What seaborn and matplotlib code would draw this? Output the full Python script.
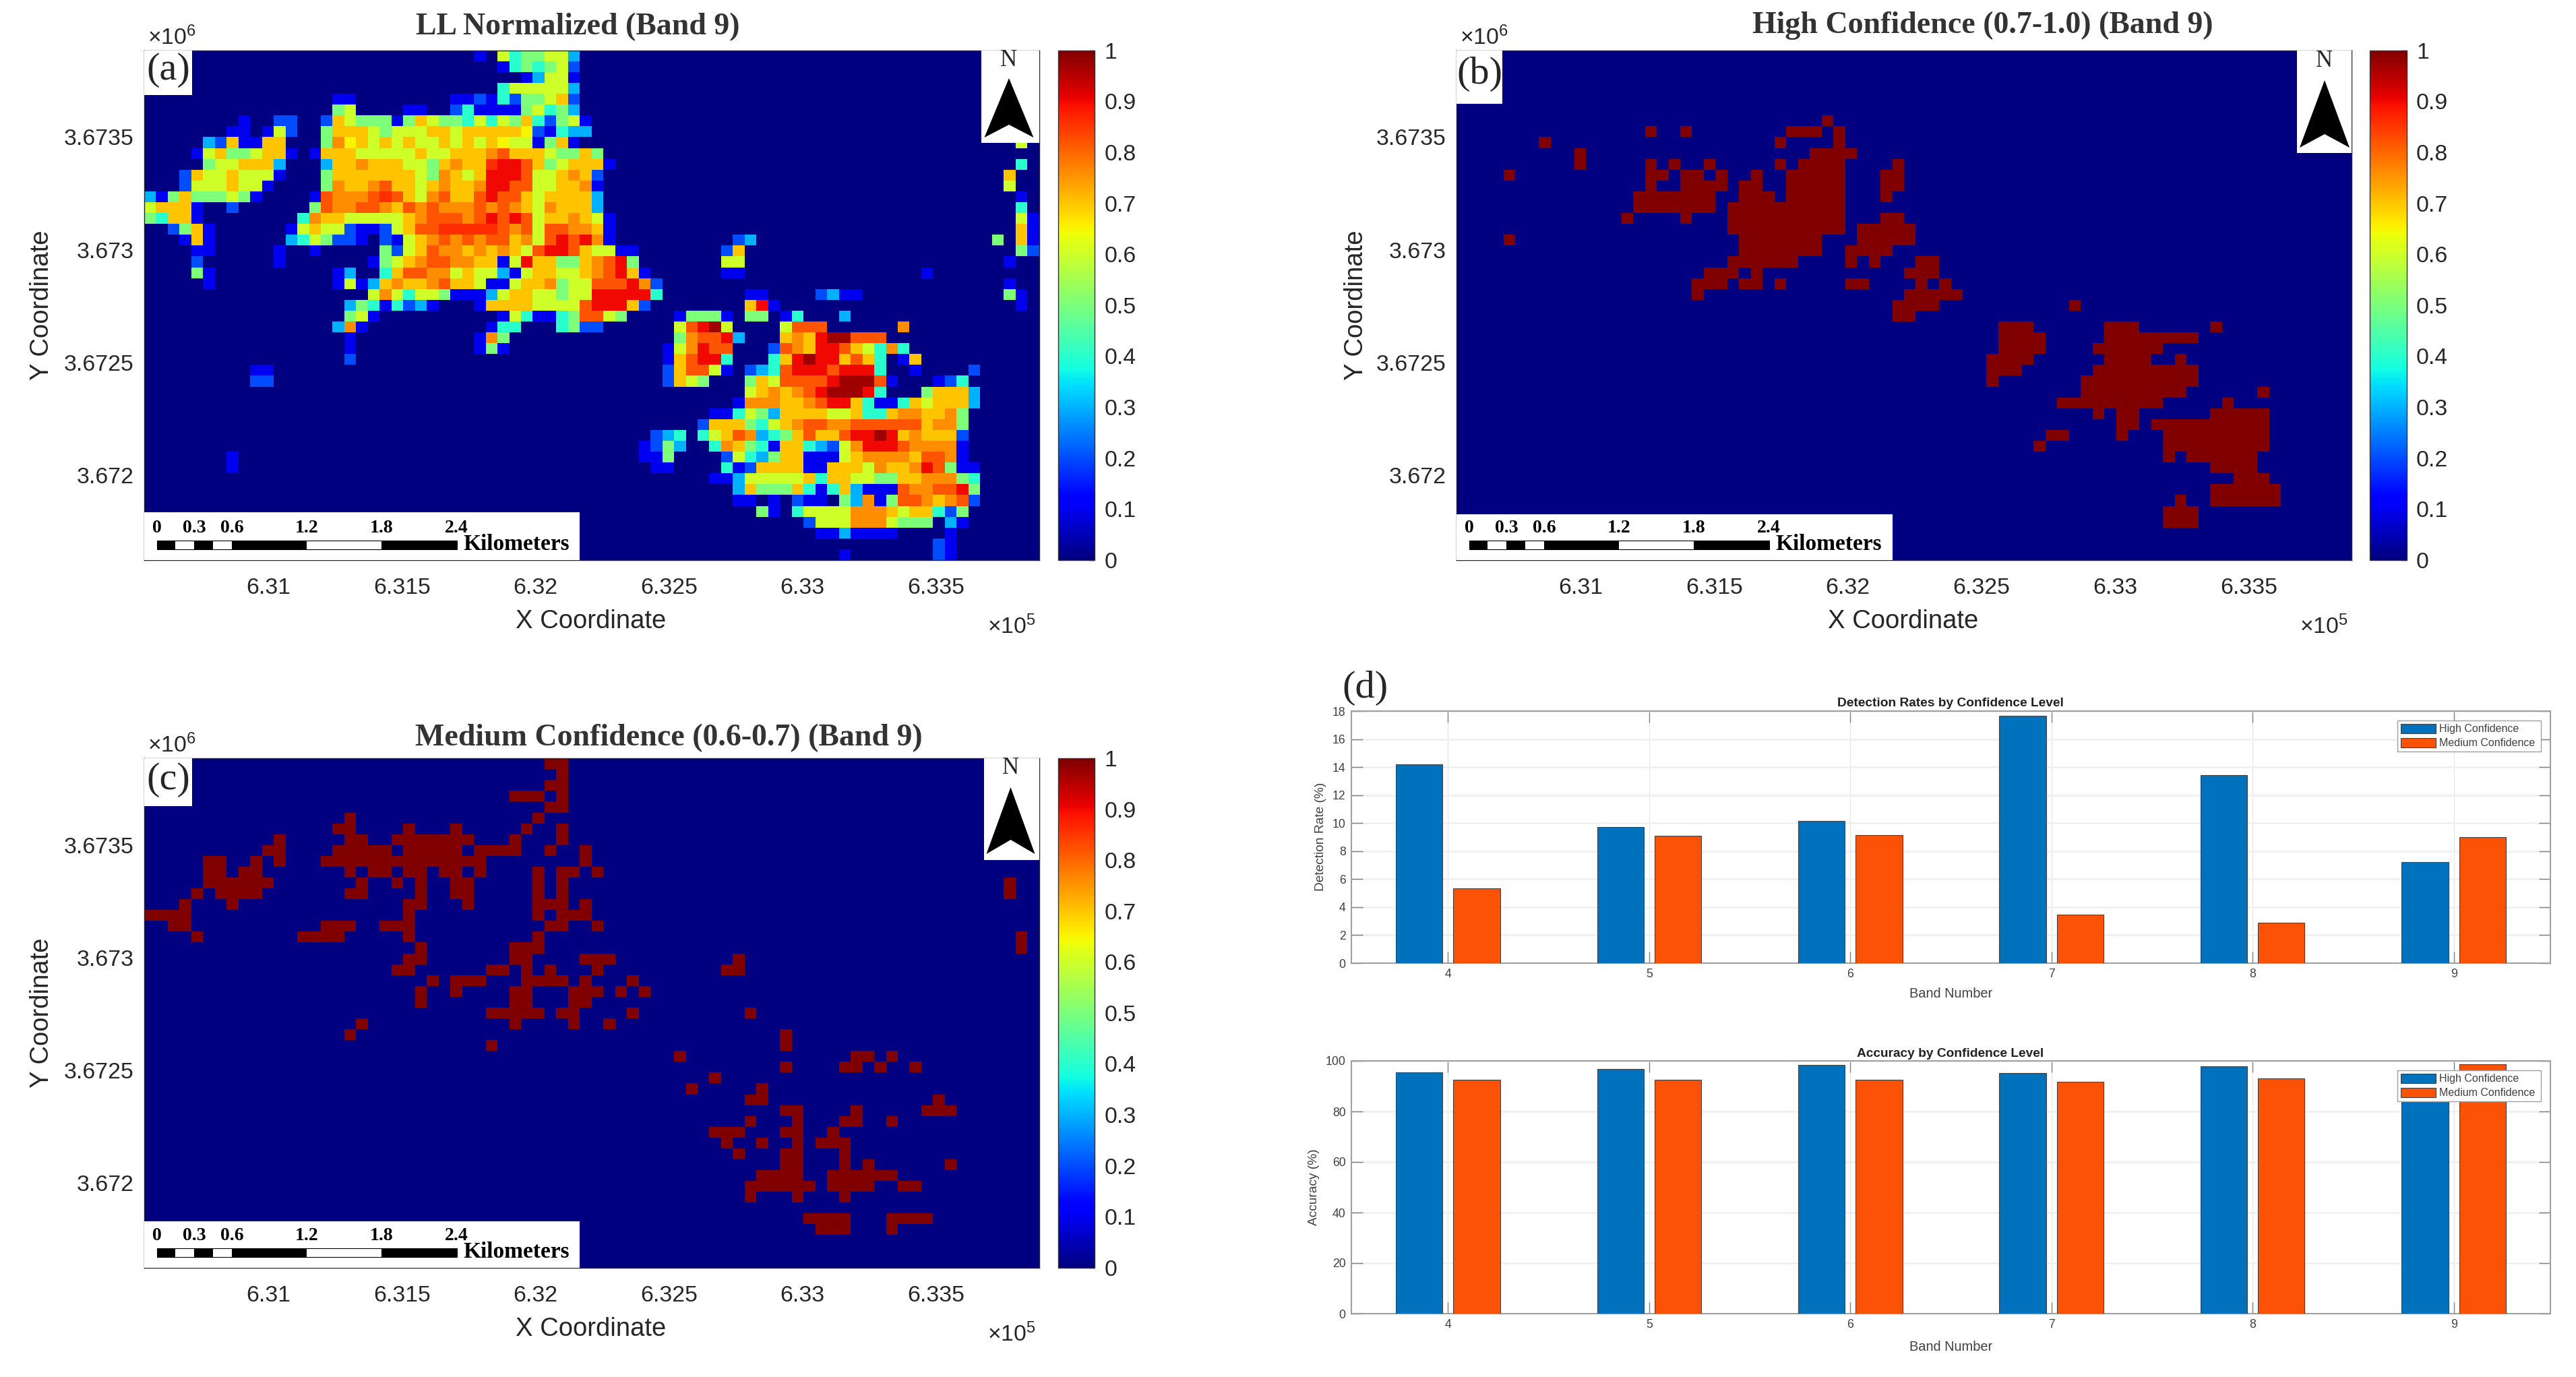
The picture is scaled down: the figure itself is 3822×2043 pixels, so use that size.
import numpy as np
import pandas as pd
import seaborn as sns
import matplotlib.pyplot as plt
from matplotlib.patches import Rectangle, Polygon

W, H = 3823, 2043
N_ROWS, N_COLS = 47, 76

x_ticks = [6.31, 6.315, 6.32, 6.325, 6.33, 6.335]
y_ticks = [3.6735, 3.673, 3.6725, 3.672]
x_range = (6.30536, 6.33885)
y_range = (3.671623, 3.673885)
cbar_ticks = [0, 0.1, 0.2, 0.3, 0.4, 0.5, 0.6, 0.7, 0.8, 0.9, 1]
cbar_labels = ['0', '0.1', '0.2', '0.3', '0.4', '0.5', '0.6', '0.7', '0.8', '0.9', '1']

# cell values: row, first column, one level per cell
levels = {'0': 0.0, '1': 0.1, '2': 0.2, '3': 0.3, '4': 0.4, '5': 0.5, '6': 0.6, 'g': 0.65,
          '7': 0.7, 'h': 0.76, '8': 0.82, 'i': 0.86, '9': 0.9, 'j': 0.97}
ll_runs = [
    (0, 28, "1"), (0, 30, "6455663"),
    (1, 30, "1454562"),
    (2, 32, "13661"),
    (3, 30, "4666663"),
    (4, 16, "11"), (4, 26, "11214255672"),
    (5, 16, "56"), (5, 22, "11"), (5, 26, "24111156453"),
    (6, 8, "1"), (6, 11, "22"), (6, 15, "27655515765546465742561"),
    (7, 7, "11"), (7, 10, "162"), (7, 15, "57776566677677777g21433"),
    (8, 5, "3271177"), (8, 15, "5hg76767667676" + "7g661571"), (8, 74, "6"),
    (9, 4, "167556771"), (9, 14, "17776666676677" + "7h8777655" + "75"),
    (10, 5, "5667773"), (10, 15, "377h77766" + "57h77i99875" + "67771"), (10, 74, "4"),
    (11, 3, "276676661"), (11, 15, "5777777765h767" + "999866" + "7h72"), (11, 73, "7"),
    (12, 3, "26667661"), (12, 15, "5h77h87767h77h998866" + "77h1"), (12, 73, "6"),
    (13, 0, "3157555651"), (13, 14, "18hhh8i876h877898876" + "77773"), (13, 74, "1"),
    (14, 0, "67771"), (14, 7, "2"), (14, 14, "58hh88h78h8hhh8h8h76h7773"), (14, 74, "4"),
    (15, 0, "54771"), (15, 13, "4h7766666" + "7h888h898" + "98677h761"), (15, 74, "61"),
    (16, 2, "2571"), (16, 12, "167662112" + "6788iiiii8h86" + "88hh71"), (16, 74, "71"),
    (17, 3, "171"), (17, 12, "346522102167" + "h8h8h887h6" + "8989h1"), (17, 50, "23"), (17, 72, "5"), (17, 74, "71"),
    (18, 4, "11"), (18, 11, "1"), (18, 14, "1"), (18, 20, "52678hh7h7h768998766" + "11"), (18, 49, "27"), (18, 74, "52"),
    (19, 4, "2"), (19, 11, "1"), (19, 19, "1567h88hh771697755" + "7h895"), (19, 49, "66"), (19, 73, "1"),
    (20, 4, "51"), (20, 16, "13"), (20, 20, "4788hh676631" + "6" + "7766" + "7h8971"), (20, 49, "11"), (20, 66, "1"),
    (21, 5, "1"), (21, 16, "16137h77h877" + "6116" + "77h566" + "8889h2"), (21, 73, "1"),
    (22, 19, "6h64665111" + "367766" + "56699999" + "4"), (22, 51, "11"), (22, 57, "2311"), (22, 73, "51"),
    (23, 17, "35414231"), (23, 28, "1777766668" + "99972"), (23, 51, "791"), (23, 74, "1"),
    (24, 17, "561"), (24, 30, "16411458865"), (24, 45, "15551"), (24, 51, "55"), (24, 54, "14"), (24, 59, "3"),
    (25, 16, "3h1"), (25, 29, "144"), (25, 35, "4522"), (25, 45, "689j6"), (25, 54, "6888"), (25, 64, "h"),
    (26, 17, "1"), (26, 28, "1h5"), (26, 45, "5h8893"), (26, 54, "7h79jj888"),
    (27, 17, "1"), (27, 28, "151"), (27, 44, "16h988"), (27, 53, "28h7998764h4"),
    (28, 17, "2"), (28, 44, "178994"), (28, 53, "479j997874"), (28, 64, "17"),
    (29, 9, "11"), (29, 44, "278861"), (29, 51, "234899989994"), (29, 65, "1"), (29, 70, "2"),
    (30, 9, "22"), (30, 44, "2765"), (30, 51, "57688889jjj81"), (30, 67, "124"),
    (31, 51, "67h7h89jjj94"), (31, 66, "57773"),
    (32, 50, "1hhh77h89974114767773"),
    (33, 48, "114653777766744" + "7hh77h5"),
    (34, 47, "2777546" + "7h88hh888888" + "7hh5"),
    (35, 43, "234"), (35, 47, "4678h3457877" + "899" + "j97h7772"),
    (36, 42, "1253"), (36, 48, "4h7541774326h9998hhhh1"),
    (37, 7, "1"), (37, 42, "115"), (37, 49, "264357711167hhhh788h1"),
    (38, 7, "1"), (38, 43, "11"), (38, 49, "412777711777" + "6h77h98511"),
    (39, 48, "11366666747766" + "5577hhh54"),
    (40, 50, "375557" + "4147" + "31118hh8895"),
    (41, 50, "11"), (41, 53, "1"), (41, 55, "211"), (41, 59, "53h1588h7h82"),
    (42, 52, "51"), (42, 55, "46666hhh7677425"),
    (43, 56, "2666hhh6555"), (43, 68, "31"),
    (44, 57, "113"), (44, 60, "1111"), (44, 68, "1"),
    (45, 67, "21"),
    (46, 59, "1"), (46, 67, "21"),
]

# cells set in panel (b): row, first column, last column
high_runs = [
    (6, 31, 31), (7, 16, 16), (7, 19, 19), (7, 28, 30), (7, 32, 32), (8, 7, 7), (8, 27, 27), (8, 32, 32),
    (9, 10, 10), (9, 30, 33), (10, 10, 10), (10, 16, 16), (10, 18, 18), (10, 21, 21), (10, 27, 27), (10, 29, 32), (10, 37, 37),
    (11, 4, 4), (11, 16, 17), (11, 19, 20), (11, 22, 22), (11, 25, 25), (11, 28, 32), (11, 36, 37),
    (12, 16, 16), (12, 19, 22), (12, 24, 25), (12, 28, 32), (12, 36, 37),
    (13, 15, 21), (13, 24, 26), (13, 28, 32), (13, 36, 36), (14, 15, 21), (14, 23, 32),
    (15, 14, 14), (15, 19, 19), (15, 23, 32), (15, 36, 37), (16, 23, 32), (16, 34, 38),
    (17, 4, 4), (17, 24, 30), (17, 34, 38), (18, 24, 30), (18, 33, 36),
    (19, 23, 28), (19, 33, 33), (19, 35, 35), (19, 39, 40), (20, 21, 23), (20, 25, 25), (20, 38, 40),
    (21, 20, 22), (21, 24, 25), (21, 27, 27), (21, 33, 34), (21, 39, 39), (21, 41, 41),
    (22, 20, 20), (22, 38, 42), (23, 37, 40), (23, 52, 52), (24, 37, 38),
    (25, 46, 48), (25, 55, 57), (25, 64, 64), (26, 46, 49), (26, 55, 62), (27, 46, 49), (27, 54, 59),
    (28, 45, 48), (28, 55, 58), (28, 61, 61), (29, 45, 47), (29, 54, 62), (30, 45, 45), (30, 53, 62),
    (31, 53, 61), (31, 68, 68), (32, 51, 59), (32, 65, 65), (33, 54, 54), (33, 56, 57), (33, 64, 68),
    (34, 56, 57), (34, 59, 68), (35, 50, 51), (35, 56, 56), (35, 60, 68), (36, 49, 49), (36, 60, 68),
    (37, 60, 60), (37, 62, 67), (38, 64, 67), (39, 66, 68), (40, 64, 69), (41, 61, 61), (41, 64, 69),
    (42, 60, 62), (43, 60, 62),
]

# cells set in panel (c)
medium_runs = [
    (0, 34, 35), (1, 35, 35), (2, 34, 35), (3, 31, 33), (3, 35, 35), (4, 34, 35), (5, 17, 17), (5, 33, 33),
    (6, 16, 17), (6, 22, 22), (6, 26, 26), (6, 32, 32), (6, 35, 35),
    (7, 11, 11), (7, 17, 18), (7, 21, 27), (7, 31, 31), (7, 35, 35),
    (8, 10, 11), (8, 16, 20), (8, 22, 26), (8, 28, 31), (8, 34, 34), (8, 37, 37),
    (9, 5, 6), (9, 9, 9), (9, 11, 11), (9, 15, 28), (9, 37, 37),
    (10, 5, 6), (10, 8, 9), (10, 17, 17), (10, 19, 20), (10, 22, 23), (10, 25, 26), (10, 28, 28), (10, 33, 33), (10, 35, 36), (10, 38, 38),
    (11, 5, 10), (11, 18, 18), (11, 21, 21), (11, 23, 23), (11, 26, 27), (11, 33, 33), (11, 35, 35), (11, 73, 73),
    (12, 4, 4), (12, 6, 9), (12, 17, 18), (12, 23, 23), (12, 26, 27), (12, 33, 33), (12, 35, 35), (12, 73, 73),
    (13, 3, 3), (13, 7, 7), (13, 22, 23), (13, 27, 27), (13, 33, 35), (13, 37, 37),
    (14, 0, 3), (14, 22, 22), (14, 33, 33), (14, 35, 37),
    (15, 2, 3), (15, 15, 17), (15, 20, 22), (15, 34, 35), (15, 38, 38),
    (16, 4, 4), (16, 13, 16), (16, 22, 22), (16, 33, 33), (16, 74, 74),
    (17, 23, 23), (17, 31, 33), (17, 74, 74),
    (18, 22, 23), (18, 31, 32), (18, 37, 39), (18, 50, 50),
    (19, 21, 22), (19, 29, 30), (19, 32, 32), (19, 34, 34), (19, 38, 38), (19, 49, 50),
    (20, 24, 24), (20, 26, 28), (20, 32, 35), (20, 37, 37), (20, 41, 41),
    (21, 23, 23), (21, 26, 26), (21, 31, 32), (21, 36, 38), (21, 40, 40), (21, 42, 42),
    (22, 23, 23), (22, 31, 32), (22, 36, 37),
    (23, 29, 33), (23, 35, 36), (23, 41, 41), (23, 51, 51),
    (24, 18, 18), (24, 31, 31), (24, 36, 36), (24, 39, 39),
    (25, 17, 17), (25, 54, 54), (26, 29, 29), (26, 54, 54),
    (27, 45, 45), (27, 60, 61), (27, 63, 63), (28, 54, 54), (28, 59, 60), (28, 62, 62), (28, 65, 65),
    (29, 48, 48), (30, 46, 46), (30, 52, 52), (31, 51, 52), (31, 67, 67),
    (32, 54, 55), (32, 60, 60), (32, 66, 68), (33, 51, 51), (33, 55, 55), (33, 59, 60), (33, 63, 63),
    (34, 48, 50), (34, 54, 55), (34, 58, 58), (35, 49, 49), (35, 52, 52), (35, 55, 55), (35, 57, 59),
    (36, 50, 50), (36, 54, 55), (36, 59, 59), (37, 54, 55), (37, 59, 59), (37, 61, 61), (37, 68, 68),
    (38, 52, 55), (38, 58, 63), (39, 51, 56), (39, 58, 61), (39, 64, 65),
    (40, 51, 51), (40, 55, 55), (40, 59, 59), (42, 56, 59), (42, 63, 66), (43, 57, 59), (43, 63, 63),
]

bands = [4, 5, 6, 7, 8, 9]
detect_high = [14.2, 9.7, 10.15, 17.65, 13.45, 7.2]
detect_medium = [5.35, 9.1, 9.15, 3.45, 2.9, 9.0]
acc_high = [95.4, 96.7, 98.3, 95.2, 97.9, 92.0]
acc_medium = [92.6, 92.6, 92.6, 91.7, 93.0, 98.7]
scale_km = ['0', '0.3', '0.6', '1.2', '1.8', '2.4']
scale_edges = [0, 0.15, 0.3, 0.45, 0.6, 1.2, 1.8, 2.4]

sns.set_theme(style='white')
plt.rcParams['font.family'] = ['Liberation Sans', 'DejaVu Sans']
plt.rcParams['mathtext.default'] = 'regular'
plt.rcParams['text.color'] = '#262626'

fig = plt.figure(figsize=(W / 100, H / 100), dpi=100)
SERIF = ['Liberation Serif', 'DejaVu Serif']


def px_axes(l, t, r, b):
    return fig.add_axes([l / W, 1 - b / H, (r - l) / W, (b - t) / H])


def fig_text(x, y, s, **kw):
    kw.setdefault('ha', 'center')
    kw.setdefault('va', 'center')
    kw.setdefault('zorder', 7)
    return fig.text(x / W, 1 - y / H, s, **kw)


def fig_rect(l, t, r, b, color='white', zorder=5):
    fig.add_artist(Rectangle((l / W, 1 - b / H), (r - l) / W, (b - t) / H, transform=fig.transFigure,
                             facecolor=color, edgecolor='none', zorder=zorder))


def grid_from_runs(runs):
    grid = np.zeros((N_ROWS, N_COLS))
    for row, first, last in runs:
        grid[row, first:last + 1] = 1
    return grid


def grid_from_levels(runs):
    grid = np.zeros((N_ROWS, N_COLS))
    for row, first, chars in runs:
        for i, ch in enumerate(chars):
            if first + i < N_COLS:
                grid[row, first + i] = levels[ch]
    return grid


def map_panel(grid, box, cbar_box, title, title_xy, tag, tag_box, scale_box, north, ylabel_x):
    l, t, r, b = box
    ax = px_axes(l, t, r, b)
    cax = px_axes(*cbar_box)
    sns.heatmap(grid, ax=ax, cbar_ax=cax, cmap='jet', vmin=0, vmax=1, xticklabels=False, yticklabels=False,
                cbar_kws={'ticks': cbar_ticks})
    xt = [(v - x_range[0]) / (x_range[1] - x_range[0]) * N_COLS for v in x_ticks]
    yt = [(y_range[1] - v) / (y_range[1] - y_range[0]) * N_ROWS for v in y_ticks]
    ax.set_xticks(xt, [str(v) for v in x_ticks])
    ax.set_yticks(yt, [str(v) for v in y_ticks], rotation=0)
    ax.tick_params(axis='x', direction='in', length=6, width=1, top=True, bottom=True, color='#262626',
                   labelsize=24.3, pad=19, labelcolor='#262626')
    ax.tick_params(axis='y', direction='in', length=6, width=1, left=True, right=True, color='#262626',
                   labelsize=24.3, pad=11, labelcolor='#262626')
    for s in ax.spines.values():
        s.set_visible(True)
        s.set_color('#262626')
        s.set_linewidth(1)
    cb = ax.collections[0].colorbar
    cb.set_ticklabels(cbar_labels)
    cb.outline.set_visible(True)
    cb.outline.set_linewidth(1)
    cb.outline.set_edgecolor('#303030')
    cax.tick_params(direction='in', length=6, width=1, right=True, color='#262626', labelsize=24.3, pad=10,
                    labelcolor='#262626')

    fig_text(l + 663, b + 91, 'X Coordinate', fontsize=27.5)
    fig_text(ylabel_x, (t + b) / 2, 'Y Coordinate', fontsize=27.5, rotation=90)
    fig_text(l + 41, t - 19, '$\\times$10$^{6}$', fontsize=24.3)
    fig_text(r - 41, b + 99, '$\\times$10$^{5}$', fontsize=24.3)
    fig_text(title_xy[0], title_xy[1], title, fontsize=33, fontweight='bold', family=SERIF, color='#333333')

    # panel letter
    fig_rect(*tag_box)
    fig_text((tag_box[0] + tag_box[2]) / 2, (tag_box[1] + tag_box[3]) / 2 - 4, tag, fontsize=42, family=SERIF)

    # scale bar
    sl, st, sr, sb = scale_box
    fig_rect(sl, st, sr, sb)
    x0 = sl + 18.6
    k = (677.7 - 232.6) / 2.4
    for i in range(len(scale_edges) - 1):
        a, c = scale_edges[i], scale_edges[i + 1]
        fig_rect(x0 + a * k, sb - 29, x0 + c * k, sb - 16, color='black' if i % 2 == 0 else 'white', zorder=6)
    fig.add_artist(Rectangle((x0 / W, 1 - (sb - 16) / H), 2.4 * k / W, 13 / H, transform=fig.transFigure,
                             facecolor='none', edgecolor='black', linewidth=0.8, zorder=6))
    for lab in scale_km:
        fig_text(x0 + float(lab) * k, sb - 47, lab, fontsize=20, fontweight='bold', family=SERIF, color='black')
    fig_text(x0 + 534, sb - 23, 'Kilometers', fontsize=24, fontweight='bold', family=SERIF, color='black')

    # north arrow
    nl, nb, tip_x, tip_y, half, base_y, notch_y, n_y = north
    fig_rect(nl, t, r, nb)
    pts = [(tip_x, tip_y), (tip_x + half, base_y), (tip_x, notch_y), (tip_x - half, base_y)]
    fig.add_artist(Polygon([(x / W, 1 - y / H) for x, y in pts], transform=fig.transFigure, facecolor='black',
                           edgecolor='none', zorder=6))
    fig_text(tip_x, n_y, 'N', fontsize=25, family=SERIF)


map_panel(grid_from_levels(ll_runs), (214, 74.7, 1541.6, 831), (1570, 74.7, 1624.5, 831),
          'LL Normalized (Band 9)', (857, 40), '(a)', (214, 74.7, 285, 141), (214, 760, 860, 831),
          (1456, 212, 1497, 116, 36.5, 204, 185, 90), 62)
map_panel(grid_from_runs(high_runs), (2161, 74.7, 3489, 831), (3516.5, 74.7, 3571, 831),
          'High Confidence (0.7-1.0) (Band 9)', (2942, 38), '(b)', (2161, 74.7, 2229, 154), (2161, 763, 2808, 831),
          (3408, 227, 3449, 119, 37, 219, 199, 90.6), 2012)
map_panel(grid_from_runs(medium_runs), (214, 1125.2, 1541.6, 1880.7), (1570, 1125.2, 1624.5, 1880.7),
          'Medium Confidence (0.6-0.7) (Band 9)', (992, 1094.5), '(c)', (214, 1125.2, 285, 1196), (214, 1812, 860, 1880.7),
          (1460, 1276, 1499.5, 1168, 36, 1267, 1246, 1140), 62)


def bar_panel(box, high, medium, ymax, yticks, title, title_y, ylabel, ylabel_x, ylabel_y, xlabel_y):
    l, t, r, b = box
    ax = px_axes(l, t, r, b)
    df = pd.DataFrame({'Band': bands * 2, 'Value': high + medium,
                       'Confidence': ['High Confidence'] * 6 + ['Medium Confidence'] * 6})
    sns.barplot(data=df, x='Band', y='Value', hue='Confidence', ax=ax, width=0.572, gap=0.19, saturation=1,
                palette=['#0072BD', '#FC5205'], edgecolor='#404040', linewidth=0.8, zorder=3)
    ax.set_xlim(-0.48, 5.48)
    ax.set_ylim(0, ymax)
    ax.set_yticks(yticks)
    ax.set_xlabel('')
    ax.set_ylabel('')
    ax.set_axisbelow(True)
    ax.grid(True, axis='y', color='#f0f0f0', linewidth=2)
    ax.grid(True, axis='x', color='#e4e4e4', linewidth=0.8)
    ax.tick_params(direction='in', length=12, width=1, top=True, right=True, bottom=True, left=True, color='#808080',
                   labelsize=12.7, labelcolor='#404040')
    ax.tick_params(axis='x', pad=6)
    ax.tick_params(axis='y', pad=6)
    for s in ax.spines.values():
        s.set_visible(True)
        s.set_color('#a0a0a0')
        s.set_linewidth(1.5)
    leg_h = 44.5 / (b - t)
    ax.legend(title=None, loc='upper left', fontsize=11.5, frameon=True, fancybox=False, framealpha=1,
              edgecolor='#a0a0a0', bbox_to_anchor=((3557 - l) / (r - l), 1 - 14 / (b - t) - leg_h, (3770 - 3557) / (r - l), leg_h),
              mode='expand', borderaxespad=0, borderpad=0.3, labelspacing=0.35, handlelength=3.3, handleheight=0.95,
              handletextpad=0.3, labelcolor='#404040')
    fig_text((l + r) / 2 - 1, title_y, title, fontsize=13.8, fontweight='bold', color='#222222')
    fig_text((l + r) / 2, xlabel_y, 'Band Number', fontsize=14.4, color='#404040')
    fig_text(ylabel_x, ylabel_y, ylabel, fontsize=13.8, rotation=90, color='#404040')


bar_panel((2005, 1055, 3784, 1429), detect_high, detect_medium, 18, list(range(0, 19, 2)),
          'Detection Rates by Confidence Level', 1043, 'Detection Rate (%)', 1960, 1241, 1474)
bar_panel((2005, 1574, 3784, 1949), acc_high, acc_medium, 100, list(range(0, 101, 20)),
          'Accuracy by Confidence Level', 1563, 'Accuracy (%)', 1950, 1761, 1998)
fig_text(2026, 1021, '(d)', fontsize=42, family=SERIF)

plt.savefig('out.png', dpi=100)
